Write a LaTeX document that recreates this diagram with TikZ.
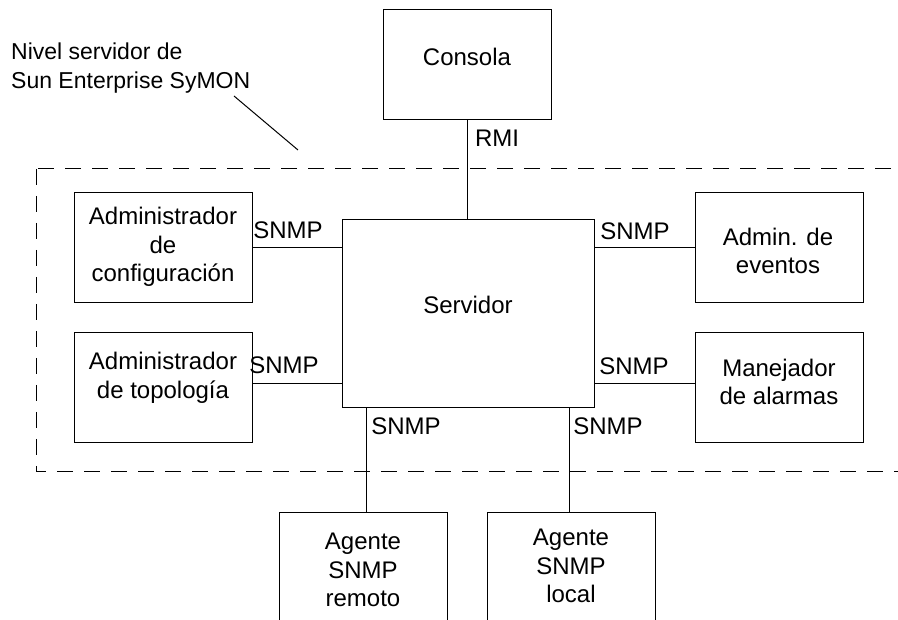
\documentclass[tikz,border=0pt]{standalone}
\usepackage{fontspec}
\setmainfont{Liberation Sans}
\usetikzlibrary{positioning}

\begin{document}
\begin{tikzpicture}[x=1pt,y=-1pt,
  box/.style={draw, line width=1pt, inner sep=0pt},
  txt/.style={inner sep=0pt, align=center, font=\fontsize{24}{28.5}\selectfont},
  link/.style={line width=1pt}]
\useasboundingbox (0,0) rectangle (898,620);
\clip (0,0) rectangle (898,620);
% nivel servidor
\draw[line width=1pt, dash pattern=on 16pt off 11pt] (36,169) rectangle (930,472);
\node[anchor=north west, align=left, inner sep=0pt, font=\fontsize{23}{29}\selectfont] (nivel) at (11,43) {Nivel servidor de\\Sun Enterprise SyMON};
\coordinate (tagA) at (234,96);
\coordinate (tagB) at (298,150);
\draw[link] (tagA) -- (tagB);

% boxes
\node[box, minimum width=168pt, minimum height=110pt] (consola) at (467,65) {};
\node[box, minimum width=252pt, minimum height=188pt] (srv) at (468,314) {};
\node[box, minimum width=178pt, minimum height=110pt] (cfg) at (163,248) {};
\node[box, minimum width=178pt, minimum height=110pt] (topo) at (163,388) {};
\node[box, minimum width=168pt, minimum height=110pt] (evt) at (779,248) {};
\node[box, minimum width=168pt, minimum height=110pt] (alm) at (779,388) {};
\node[box, minimum width=168pt, minimum height=114pt] (agr) at (363,570) {};
\node[box, minimum width=168pt, minimum height=114pt] (agl) at (571,570) {};

% texts
\node[txt] (consolaT) at (467,57) {Consola};
\node[txt] (srvT) at (468,305) {Servidor};
\node[txt] (cfgT) at (163,247) {Administrador\\de\\configuración};
\node[txt] (topoT) at (163,378) {Administrador\\de topología};
\node[txt] (evtT) at (778,251) {Admin. de\\eventos};
\node[txt] (almT) at (779,382) {Manejador\\de alarmas};
\node[txt] (agrT) at (363,570) {Agente\\SNMP\\remoto};
\node[txt] (aglT) at (571,566) {Agente\\SNMP\\local};

% connectors
\draw[link] (consola.south) -- (consola.south |- srv.north);
\draw[link] (cfg.east) -- (cfg.east -| srv.west);
\draw[link] ([yshift=4pt]topo.east) -- ([yshift=4pt]topo.east -| srv.west);
\draw[link] (evt.west) -- (evt.west -| srv.east);
\draw[link] ([yshift=4pt]alm.west) -- ([yshift=4pt]alm.west -| srv.east);
\draw[link] (srv.south -| 366,0) -- (agr.north -| 366,0);
\draw[link] (srv.south -| 569,0) -- (agl.north -| 569,0);

% labels
\node[txt] (rmi) at (497,138) {RMI};
\node[txt] (snmpA) at (288,230) {SNMP};
\node[txt] (snmpB) at (284,365) {SNMP};
\node[txt] (snmpC) at (635,231) {SNMP};
\node[txt] (snmpD) at (634,366) {SNMP};
\node[txt] (snmpE) at (406,426) {SNMP};
\node[txt] (snmpF) at (608,426) {SNMP};
\end{tikzpicture}
\end{document}
